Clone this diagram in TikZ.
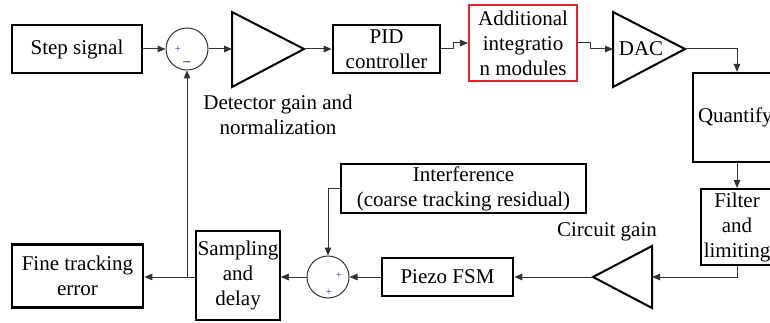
\documentclass[tikz,border=0pt]{standalone}
\usepackage{fontspec}
\setmainfont{Liberation Serif}
\usetikzlibrary{arrows.meta}
\definecolor{ln}{HTML}{333333}
\definecolor{boxred}{HTML}{E2222C}
\definecolor{sgn}{HTML}{2A3A80}
\begin{document}
\begin{tikzpicture}[x=1pt,y=-1pt,
  every node/.style={font=\fontsize{21}{25}\selectfont, inner sep=0pt, align=center},
  thickbox/.style={draw=black, line width=2.6pt, rectangle},
  medbox/.style={draw=black, line width=2pt, rectangle},
  thinbox/.style={draw=black, line width=1.5pt, rectangle},
  sumnode/.style={draw=ln, line width=1pt, circle, minimum size=42pt},
  sig/.style={font=\fontsize{11}{11}\selectfont, text=sgn},
  conn/.style={draw=ln, line width=1pt, -{Triangle[length=8pt,width=6.5pt]}},
  tri/.style={draw=black, line width=2pt, line join=miter}
]
\useasboundingbox (0,0) rectangle (770,323);
\clip (0,0) rectangle (770,323);

% top row
\node[thickbox, minimum width=130pt, minimum height=48pt] (step) at (77,49) {Step signal};
\node[sumnode] (sum1) at (187,49) {};
\node[sig] (p1) at (178,49) {+};
\node[font=\fontsize{14}{14}\selectfont, text=ln] (m1) at (187,64) {\textbf{–}};

\draw[tri] (232,12) -- (304,49) -- (232,87) -- cycle;
\coordinate (t1in) at (232,49);
\coordinate (t1out) at (304,49);
\node (detlbl) at (278,115) {Detector gain and\\normalization};

\node[thickbox, minimum width=107pt, minimum height=48pt] (pid) at (386.5,49) {PID\\controller};
\node[draw=boxred, line width=2pt, rectangle, minimum width=108pt, minimum height=76pt] (add) at (523,43) {Additional\\integratio\\n modules};

\draw[tri] (613,12) -- (685,49) -- (613,87) -- cycle;
\coordinate (t2in) at (613,49);
\coordinate (t2out) at (685,49);
\node (dac) at (641,49) {DAC};

\node[medbox, minimum width=88pt, minimum height=89pt, text width=78pt, inner xsep=5pt, align=left] (quant) at (737,117.5) {Quantify};
\node[medbox, minimum width=72pt, minimum height=76pt] (filt) at (737,227) {Filter\\and\\limiting};

% bottom row
\draw[tri] (652,246) -- (593,277) -- (652,308) -- cycle;
\coordinate (t3in) at (652,277);
\coordinate (t3out) at (593,277);
\node (cglbl) at (607,232) {Circuit gain};

\node[thickbox, minimum width=131pt, minimum height=38pt] (piezo) at (447.5,277) {Piezo FSM};
\node[sumnode] (sum2) at (328,277) {};
\node[sig] (p2) at (339,275) {+};
\node[sig] (p3) at (329,292) {+};
\node[thinbox, minimum width=245pt, minimum height=49pt] (interf) at (463.5,188.5) {Interference\\(coarse tracking residual)};

\node[thinbox, minimum width=84pt, minimum height=89pt] (samp) at (238,275.5) {Sampling\\and\\delay};
\node[thickbox, minimum width=131pt, minimum height=63pt] (fine) at (77.5,276) {Fine tracking\\error};
\coordinate (fb) at (187,277);

% connectors
\draw[conn] (step) -- (sum1);
\draw[conn] (sum1) -- (t1in);
\draw[conn] (t1out) -- (pid);
\draw[conn] (pid.east) -- ++(12,0) |- (add.west);
\draw[conn] (add.east) -- ++(12,0) |- (t2in);
\draw[conn] (t2out) -| (quant.north);
\draw[conn] (quant.south) -- (filt.north);
\draw[conn] (filt.south) |- (t3in);
\draw[conn] (t3out) -- (piezo.east);
\draw[conn] (piezo.west) -- (sum2.east);
\draw[conn] (interf.west) -| (sum2.north);
\draw[conn] (sum2.west) -- (samp.east |- sum2.west);
\draw[conn] (samp.west |- fb) -- (fine.east |- fb);
\draw[conn] (fb) -- (sum1.south);
\end{tikzpicture}
\end{document}
